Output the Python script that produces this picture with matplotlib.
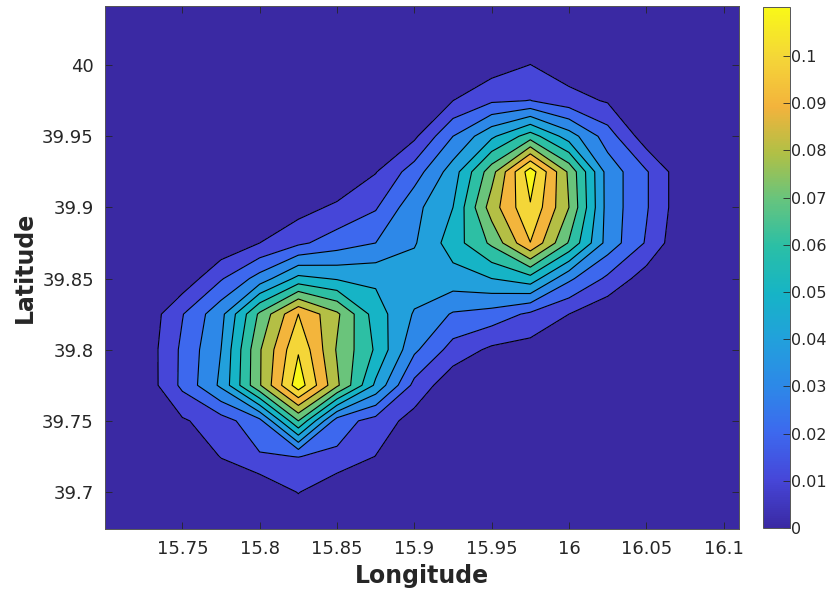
import numpy as np
import matplotlib
matplotlib.use("Agg")
import matplotlib.pyplot as plt
from matplotlib.colors import LinearSegmentedColormap, Normalize
from matplotlib.cm import ScalarMappable

# grid of the density estimate (rows = latitude, columns = longitude)
lon = [15.700, 15.725, 15.750, 15.775, 15.800, 15.825, 15.850, 15.875, 15.900,
       15.925, 15.950, 15.975, 16.000, 16.025, 16.050, 16.075, 16.100, 16.125]
lat = [39.675, 39.700, 39.725, 39.750, 39.775, 39.800, 39.825, 39.850,
       39.875, 39.900, 39.925, 39.950, 39.975, 40.000, 40.025, 40.050]

density = [
    [0, 0, 0, 0, 0, 0, 0, 0, 0, 0, 0, 0, 0, 0, 0, 0, 0, 0],
    [0, 0, 0, 0, 0.001, 0.0105, 0.001, 0, 0, 0, 0, 0, 0, 0, 0, 0, 0, 0],
    [0, 0, 0, 0.0105, 0.019, 0.0202, 0.018, 0.0098, 0, 0, 0, 0, 0, 0, 0, 0, 0, 0],
    [0, 0, 0.0087, 0.0155, 0.027, 0.070, 0.025, 0.016, 0.006, 0, 0, 0, 0, 0, 0, 0, 0, 0],
    [0, 0.0027, 0.0223, 0.042, 0.079, 0.116, 0.082, 0.048, 0.017, 0.003, 0, 0, 0, 0, 0, 0, 0, 0],
    [0, 0.003, 0.022, 0.040, 0.079, 0.109, 0.079, 0.0586, 0.032, 0.016, 0.008, 0.006, 0, 0, 0, 0, 0, 0],
    [0, 0.002, 0.0195, 0.037, 0.072, 0.100, 0.082, 0.055, 0.039, 0.029, 0.026, 0.018, 0.010, 0.002, 0, 0, 0, 0],
    [0, 0, 0.003, 0.019, 0.034, 0.053, 0.049, 0.048, 0.046, 0.046, 0.050, 0.056, 0.032, 0.018, 0.005, 0, 0, 0],
    [0, 0, 0, 0.002, 0.010, 0.018, 0.025, 0.030, 0.039, 0.055, 0.072, 0.0998, 0.069, 0.036, 0.019, 0, 0, 0],
    [0, 0, 0, 0, 0, 0.006, 0.012, 0.019, 0.037, 0.050, 0.085, 0.109, 0.080, 0.036, 0.021, 0.002, 0, 0],
    [0, 0, 0, 0, 0, 0, 0, 0.0095, 0.025, 0.045, 0.076, 0.1155, 0.078, 0.036, 0.021, 0.002, 0, 0],
    [0, 0, 0, 0, 0, 0, 0, 0, 0.008, 0.030, 0.048, 0.065, 0.045, 0.025, 0.004, 0, 0, 0],
    [0, 0, 0, 0, 0, 0, 0, 0, 0, 0.010, 0.0185, 0.0202, 0.014, 0.009, 0, 0, 0, 0],
    [0, 0, 0, 0, 0, 0, 0, 0, 0, 0, 0.005, 0.0102, 0.004, 0, 0, 0, 0, 0],
    [0, 0, 0, 0, 0, 0, 0, 0, 0, 0, 0, 0, 0, 0, 0, 0, 0, 0],
    [0, 0, 0, 0, 0, 0, 0, 0, 0, 0, 0, 0, 0, 0, 0, 0, 0, 0],
]

levels = [0, 0.01, 0.02, 0.03, 0.04, 0.05, 0.06, 0.07, 0.08, 0.09, 0.10, 0.11, 0.12]
cbar_ticks = [0, 0.01, 0.02, 0.03, 0.04, 0.05, 0.06, 0.07, 0.08, 0.09, 0.1]
x_ticks = [15.75, 15.8, 15.85, 15.9, 15.95, 16, 16.05, 16.1]
y_ticks = [39.7, 39.75, 39.8, 39.85, 39.9, 39.95, 40]
cmax = 0.1104

# parula-like colormap (as it appears in the picture)
parula = LinearSegmentedColormap.from_list("parula_like", [
    (0.00, "#3a29a3"), (0.09, "#4646d8"), (0.18, "#3d68ee"),
    (0.27, "#2d88e8"), (0.36, "#22a0dc"), (0.45, "#16b4c6"),
    (0.54, "#2abfa6"), (0.63, "#66c47e"), (0.72, "#b0c046"),
    (0.81, "#f3b33c"), (0.905, "#f4d638"), (1.00, "#f8f818")])
norm = Normalize(0, cmax)

text_col = "#262626"
plt.rcParams['font.family'] = ['DejaVu Sans']

fig = plt.figure(figsize=(8.39, 5.92), dpi=100)
ax = fig.add_axes([0.1252, 0.1064, 0.7557, 0.8834])
cax = fig.add_axes([0.9094, 0.1081, 0.0322, 0.8800])

X, Y = np.meshgrid(lon, lat)
Z = np.array(density)

fill_cols = [parula(norm(min(l, cmax))) for l in levels[:-1]]
ax.contourf(X, Y, Z, levels=levels, colors=fill_cols)
ax.contour(X, Y, Z, levels=levels[1:-1], colors="k", linewidths=0.8)
ax.set_facecolor(parula(0.0))

ax.set_xlim(15.70, 16.11)
ax.set_ylim(39.674, 40.0415)
ax.set_xticks(x_ticks)
ax.set_xticklabels(["15.75", "15.8", "15.85", "15.9", "15.95", "16", "16.05", "16.1"])
ax.set_yticks(y_ticks)
ax.set_yticklabels(["39.7", "39.75", "39.8", "39.85", "39.9", "39.95", "40"])
ax.tick_params(direction="in", length=5, width=0.6, top=True, right=True,
               labelsize=13, colors=text_col, pad=8)
for s in ax.spines.values():
    s.set_color("#555555")
    s.set_linewidth(0.7)

ax.set_xlabel("Longitude", fontsize=17, fontweight="bold", color=text_col, labelpad=4)
ax.set_ylabel("Latitude", fontsize=17, fontweight="bold", color=text_col, labelpad=4)

sm = ScalarMappable(norm=norm, cmap=parula)
cb = fig.colorbar(sm, cax=cax, ticks=cbar_ticks)
cb.ax.set_yticklabels(["0", "0.01", "0.02", "0.03", "0.04", "0.05", "0.06",
                       "0.07", "0.08", "0.09", "0.1"])
cb.ax.tick_params(direction="in", length=5, width=0.6, labelsize=11.5,
                  colors=text_col, pad=1)
cb.outline.set_edgecolor("#555555")
cb.outline.set_linewidth(0.7)

fig.savefig("out.png", dpi=100)
